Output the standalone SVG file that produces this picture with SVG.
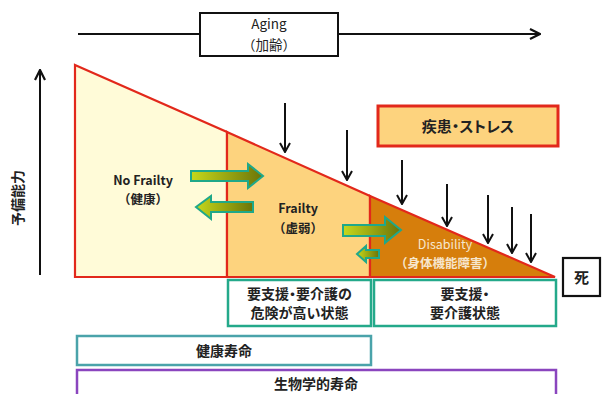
<svg xmlns="http://www.w3.org/2000/svg" width="602" height="394" viewBox="0 0 602 394">
<defs>
<style>
text{font-family:"Noto Sans CJK JP","Noto Sans",sans-serif;fill:#222;text-anchor:middle}
.p{font-feature-settings:"palt"}
.b{font-weight:bold}
.red{stroke:#E2281B;stroke-width:2.2}
.teal{fill:#fff;stroke:#24A98A;stroke-width:2.5}
.garr{fill:url(#gg);stroke:#1FA88A;stroke-width:2;stroke-linejoin:miter}
.down{stroke:#111;stroke-width:2;fill:none}
</style>
<linearGradient id="gg" x1="0" y1="0" x2="1" y2="0">
<stop offset="0" stop-color="#C6D81C"/>
<stop offset="1" stop-color="#6C7408"/>
</linearGradient>
<marker id="ah" viewBox="0 0 12 12" refX="11" refY="6" markerWidth="12" markerHeight="12" markerUnits="userSpaceOnUse" orient="auto">
<path d="M2,1 L11,6 L2,11" fill="none" stroke="#111" stroke-width="2"/>
</marker>
<marker id="ah2" viewBox="0 0 12 12" refX="11" refY="6" markerWidth="12" markerHeight="12" markerUnits="userSpaceOnUse" orient="auto">
<path d="M1,1 L11,6 L1,11" fill="none" stroke="#111" stroke-width="2.2"/>
</marker>
</defs>

<g id="connectors">
<line x1="78" y1="34" x2="540" y2="34" stroke="#111" stroke-width="2" marker-end="url(#ah2)"/>
<line x1="40" y1="275" x2="40" y2="70" stroke="#111" stroke-width="2" marker-end="url(#ah2)"/>
<line class="down" x1="285" y1="103" x2="285" y2="152" marker-end="url(#ah)"/>
<line class="down" x1="347" y1="130" x2="347" y2="180" marker-end="url(#ah)"/>
<line class="down" x1="402" y1="160" x2="402" y2="204" marker-end="url(#ah)"/>
<line class="down" x1="447" y1="184" x2="447" y2="226" marker-end="url(#ah)"/>
<line class="down" x1="488" y1="195" x2="488" y2="243" marker-end="url(#ah)"/>
<line class="down" x1="512" y1="207" x2="512" y2="253" marker-end="url(#ah)"/>
<line class="down" x1="531" y1="214" x2="531" y2="262" marker-end="url(#ah)"/>
</g>

<g id="aging">
<rect x="200" y="13" width="138" height="43" fill="#fff" stroke="#111" stroke-width="2"/>
<text x="269" y="29" font-size="13.5">Aging</text>
<text x="269" y="50" font-size="13.5">（加齢）</text>
</g>

<g id="reserve-label">
<text x="0" y="0" font-size="14" class="b" transform="translate(23,198) rotate(-90)">予備能力</text>
</g>

<g id="no-frailty">
<polygon points="75,65 227,132 227,277 75,277" fill="#FFFBD8" class="red"/>
<text x="143" y="185" font-size="12.5" class="b">No Frailty</text>
<text x="143" y="204" font-size="12.5" class="b">（健康）</text>
</g>
<g id="frailty">
<polygon points="227,132 370,196 370,277 227,277" fill="#FDD37E" class="red"/>
<text x="298" y="213" font-size="12.5" class="b">Frailty</text>
<text x="298" y="233" font-size="12.5" class="b">（虚弱）</text>
</g>
<g id="disability">
<polygon points="370,196 555,277 370,277" fill="#D67E0C" class="red"/>
<text x="445" y="249" font-size="12.5" style="fill:#F6E6CC">Disability</text>
<text x="445" y="268" font-size="12.5" class="b" style="fill:#F6E6CC">（身体機能障害）</text>
</g>

<g id="flow-arrows">
<polygon class="garr" points="191,171 248,171 248,164 263,176 248,188 248,181 191,181"/>
<polygon class="garr" points="253,202 211,202 211,196 196,207 211,219 211,212 253,212"/>
<polygon class="garr" points="343,225 385,225 385,217 401,230 385,243 385,236 343,236"/>
<polygon class="garr" points="379,250 366,250 366,246 357,254 366,262 366,258 379,258"/>
</g>

<g id="disease">
<rect x="378" y="106" width="180" height="40" fill="#FDD37E" stroke="#E2281B" stroke-width="3"/>
<text x="468" y="132" font-size="15" class="b p">疾患・ストレス</text>
</g>

<g id="death">
<rect x="563" y="258" width="37" height="38" fill="#fff" stroke="#111" stroke-width="2.2"/>
<text x="581.5" y="283" font-size="15" class="b">死</text>
</g>

<g id="high-risk">
<rect x="228" y="280" width="143" height="46" class="teal"/>
<text x="299.5" y="299" font-size="14" class="b p">要支援・要介護の</text>
<text x="299.5" y="318" font-size="14" class="b">危険が高い状態</text>
</g>
<g id="care-needed">
<rect x="374" y="280" width="182" height="46" class="teal"/>
<text x="465" y="299" font-size="14" class="b p">要支援・</text>
<text x="465" y="318" font-size="14" class="b">要介護状態</text>
</g>

<g id="healthy-life">
<rect x="77" y="336" width="294" height="29" fill="#fff" stroke="#4AA3AA" stroke-width="2.5"/>
<text x="224" y="356" font-size="14" class="b">健康寿命</text>
</g>
<g id="bio-life">
<rect x="77" y="370" width="479" height="30" fill="#fff" stroke="#8A45BE" stroke-width="2.5"/>
<text x="316" y="389" font-size="14" class="b">生物学的寿命</text>
</g>
</svg>
